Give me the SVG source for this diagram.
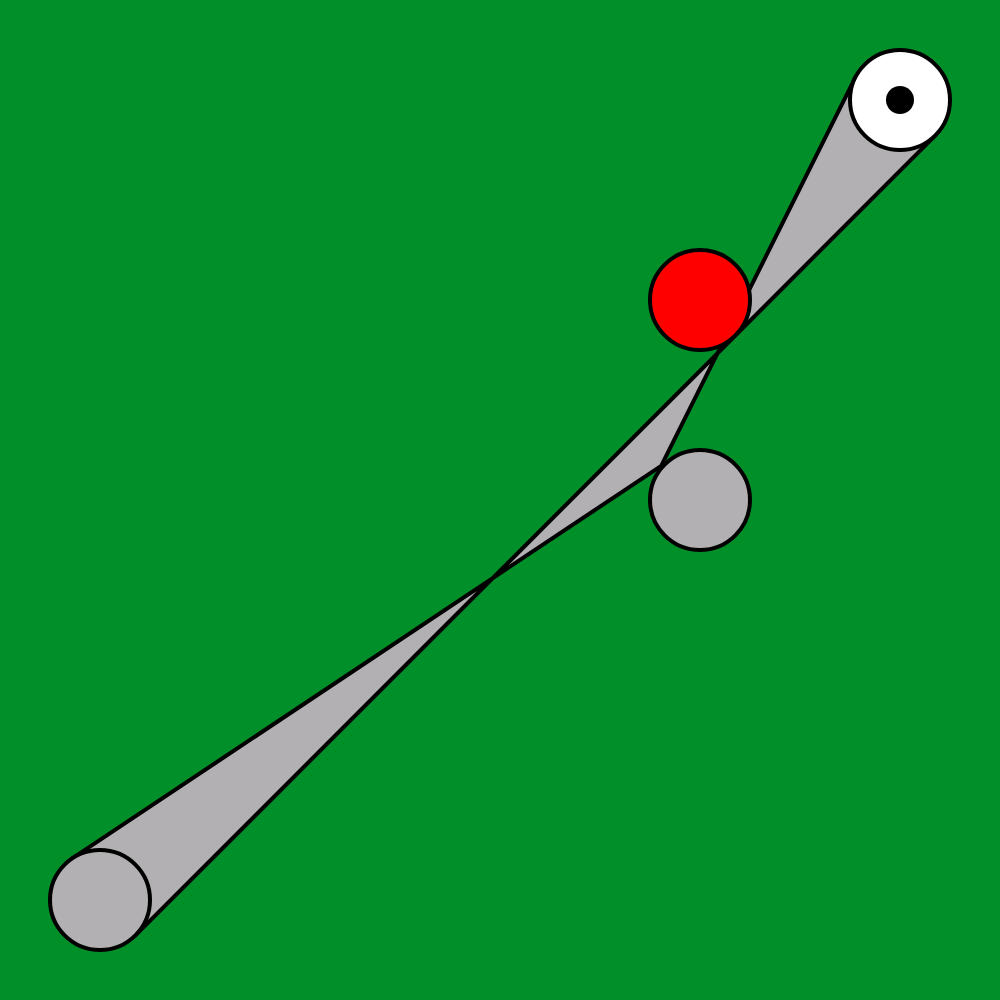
<svg xmlns="http://www.w3.org/2000/svg" width="1000" height="1000" viewBox="0 0 1000 1000">
<style>
.o{stroke:#000;stroke-width:4;stroke-linejoin:round}
.g{fill:#b3b0b3}
</style>
<rect x="0" y="0" width="1000" height="1000" fill="#008f29"/>
<polygon class="o g" points="855.3,77.6 661.2,465.8 72.3,858.4 135.4,935.4 935.4,135.4"/>
<circle class="o g" cx="700" cy="500" r="50"/>
<circle class="o g" cx="100" cy="900" r="50"/>
<circle class="o" cx="700" cy="300" r="50" fill="#ff0000"/>
<circle class="o" cx="900" cy="100" r="50" fill="#ffffff"/>
<circle cx="900" cy="100" r="14" fill="#000"/>
</svg>
